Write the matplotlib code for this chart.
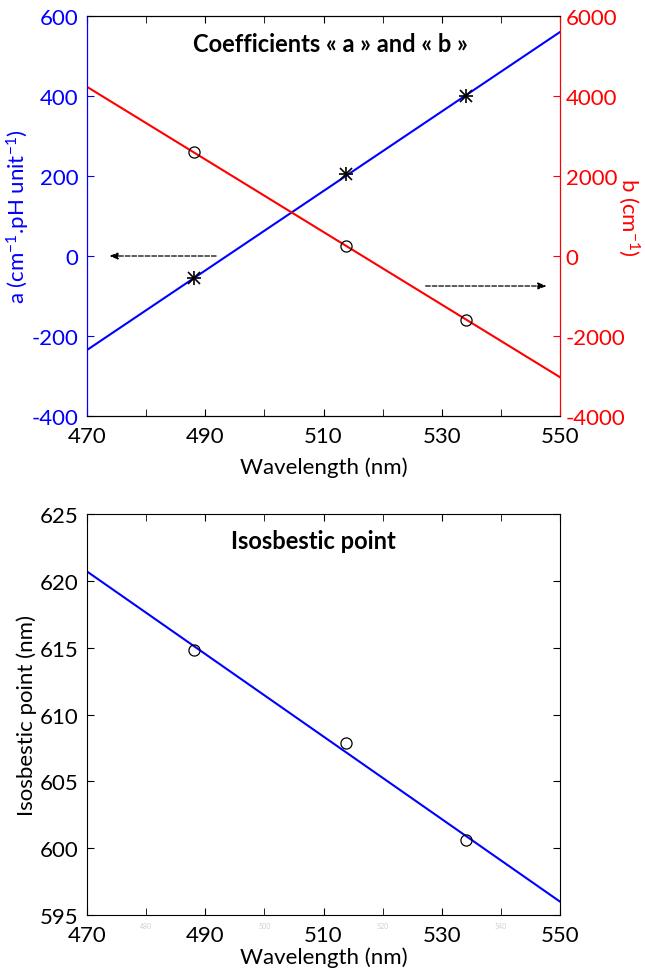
"""
Coefficients a, b and isosbestic point vs wavelength (two stacked panels).
"""
import numpy as np
import matplotlib.pyplot as plt

plt.rcParams['font.family'] = ['Lato', 'DejaVu Sans']
plt.rcParams['axes.unicode_minus'] = False
plt.rcParams['mathtext.default'] = 'regular'

# fitted lines (end points read at 470 and 550 nm)
WL_LINE   = [470, 550]
A_LINE    = [-235, 560]
B_LINE    = [4230, -3030]
ISO_LINE  = [620.7, 596.0]

# measured points
WL_PTS    = [488.1, 513.8, 534.1]
A_PTS     = [-56, 204, 401]
B_PTS     = [2590, 240, -1590]
WL_ISO    = [488.1, 513.8, 534.1]
ISO_PTS   = [614.8, 607.9, 600.6]

XTICKS    = [470, 490, 510, 530, 550]
XMINOR    = [480, 500, 520, 540]


def style_x(ax, labelpad):
    ax.set_xlim(470, 550)
    ax.set_xticks(XTICKS)
    ax.set_xticks(XMINOR, minor=True)
    ax.tick_params(axis='x', which='both', direction='in', top=True,
                   length=5, labelsize=16, pad=7)
    ax.set_xlabel('Wavelength (nm)', fontsize=16, labelpad=labelpad)


def main():
    fig = plt.figure(figsize=(6.45, 9.78), dpi=100)
    W, H = 645, 978

    # ---- top panel ----
    ax = fig.add_axes([87 / W, 1 - 417 / H, 473 / W, 400 / H])
    ax2 = ax.twinx()
    ax.plot(WL_LINE, A_LINE, color='blue', lw=1.5)
    # MATLAB-style asterisk: plus and cross on top of each other
    ax.plot(WL_PTS, A_PTS, ls='none', marker='+', ms=10, mec='k', mew=1.2)
    ax.plot(WL_PTS, A_PTS, ls='none', marker='x', ms=8, mec='k', mew=1.2)
    ax2.plot(WL_LINE, B_LINE, color='red', lw=1.5)
    ax2.plot(WL_PTS, B_PTS, ls='none', marker='o', ms=8, mfc='none', mec='k', mew=0.9)
    ax.set_ylim(-400, 600)
    ax2.set_ylim(-4000, 6000)
    ax.set_yticks(np.arange(-400, 601, 200))
    ax2.set_yticks(np.arange(-4000, 6001, 2000))
    style_x(ax, 8)
    ax.tick_params(axis='y', direction='in', length=5, colors='blue', labelsize=16, pad=6)
    ax2.tick_params(axis='y', direction='in', length=5, colors='red', labelsize=16, pad=4)
    for a in (ax, ax2):
        a.spines['left'].set_color('blue')
        a.spines['right'].set_color('red')
    ax.set_ylabel(r'a (cm$^{-1}$.pH unit$^{-1}$)', color='blue', fontsize=16, labelpad=0)
    ax2.set_ylabel(r'b (cm$^{-1}$)', color='red', fontsize=16, rotation=270, labelpad=12)
    ax.text(0.515, 0.93, 'Coefficients « a » and « b »', transform=ax.transAxes,
            ha='center', va='center', fontsize=17, fontweight='bold')
    # arrows pointing to the relevant axis
    ax.annotate('', xy=(473.3, 0), xytext=(492.3, 0),
                arrowprops=dict(arrowstyle='-|>,head_length=0.5,head_width=0.2',
                                ls='--', color='k', lw=0.9))
    ax2.annotate('', xy=(548.2, -750), xytext=(526.8, -750),
                 arrowprops=dict(arrowstyle='-|>,head_length=0.5,head_width=0.2',
                                 ls='--', color='k', lw=0.9))

    # ---- bottom panel ----
    bx = fig.add_axes([87 / W, 1 - 916 / H, 473 / W, 401 / H])
    bx.plot(WL_LINE, ISO_LINE, color='blue', lw=1.5)
    bx.plot(WL_ISO, ISO_PTS, ls='none', marker='o', ms=8, mfc='none', mec='k', mew=0.9)
    bx.set_ylim(595, 625)
    bx.set_yticks(np.arange(595, 626, 5))
    style_x(bx, 1)
    bx.tick_params(axis='y', direction='in', right=True, length=5, labelsize=16, pad=6)
    bx.set_ylabel('Isosbestic point (nm)', fontsize=16, labelpad=2)
    bx.text(0.478, 0.933, 'Isosbestic point', transform=bx.transAxes,
            ha='center', va='center', fontsize=17, fontweight='bold')
    # faint minor labels left over under the axis
    for xm in XMINOR:
        bx.text(xm, -0.027, str(xm), transform=bx.get_xaxis_transform(),
                ha='center', va='center', fontsize=5, color='#d0d0d0')

    fig.savefig('out.png', dpi=100)
    plt.close(fig)


if __name__ == '__main__':
    main()
